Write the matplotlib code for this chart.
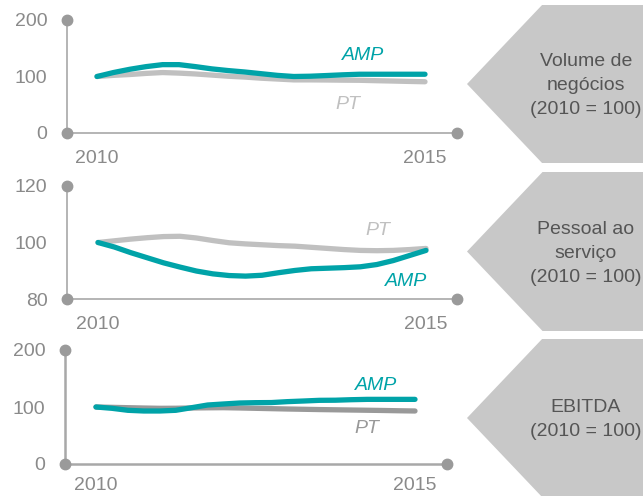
import matplotlib.pyplot as plt
from matplotlib.patches import Polygon

plt.rcParams['font.family'] = ['Liberation Sans', 'DejaVu Sans']

W, H = 643, 496

# quarterly readings, 2010 .. 2015
years = [2010 + q * 0.25 for q in range(21)]

# Volume de negocios (2010 = 100)
vol_amp = [100, 107, 112.8, 117.5, 121, 121, 117.5, 113.5, 110.5, 108, 105,
           102, 100, 100.5, 101.7, 103, 104, 104, 104, 104, 104]
vol_pt = [100, 102, 103.5, 105.5, 107, 106, 104.5, 102.5, 100.5, 99, 97,
          95.5, 94, 94, 93.8, 93.5, 93.3, 92.6, 92, 91.3, 90.7]

# Pessoal ao servico (2010 = 100)
pes_amp = [100, 98.4, 96.4, 94.6, 92.8, 91.3, 89.9, 88.9, 88.3, 88.1, 88.4,
           89.3, 90.1, 90.7, 90.9, 91.1, 91.4, 92.2, 93.6, 95.4, 97.2]
pes_pt = [100, 100.6, 101.2, 101.7, 102.1, 102.2, 101.6, 100.7, 99.9, 99.5,
          99.2, 98.9, 98.7, 98.3, 97.9, 97.5, 97.2, 97.1, 97.2, 97.5, 97.9]

# EBITDA (2010 = 100)
ebi_amp = [100, 97.7, 94.2, 93, 93, 94.2, 98.8, 103.5, 105.3, 107, 107.6,
           107.8, 109.4, 110.5, 111.7, 111.9, 112.8, 113.4, 113.4, 113.4, 113.4]
ebi_pt = [100, 99.4, 98.8, 98.2, 97.7, 97.8, 98.3, 98.6, 98.8, 98.3, 97.7,
          97.1, 96.5, 96, 95.5, 95.1, 94.7, 94.3, 93.9, 93.4, 93]

AMP_C = '#00a3a8'
TICK_C = '#8a8a8a'
AX_C = '#a8a8a8'
DOT_C = '#9a9a9a'
BOX_C = '#c8c8c8'
BOX_TXT = '#555555'

fig = plt.figure(figsize=(W / 100, H / 100), dpi=100)


def make_panel(px_left, px_right, px_top, px_bot, x0px, x1px, ylim, yticks,
               amp, pt, pt_color, amp_lab, pt_lab, ax_lw=1.2, xpad=12):
    ax = fig.add_axes([px_left / W, 1 - px_bot / H,
                       (px_right - px_left) / W, (px_bot - px_top) / H])
    ppy = (x1px - x0px) / 5.0
    ax.set_xlim(2010 - (x0px - px_left) / ppy, 2015 + (px_right - x1px) / ppy)
    ax.set_ylim(*ylim)
    ax.patch.set_alpha(0)
    for s in ['top', 'right']:
        ax.spines[s].set_visible(False)
    for s in ['left', 'bottom']:
        ax.spines[s].set_color(AX_C)
        ax.spines[s].set_linewidth(ax_lw)
    xl = ax.get_xlim()
    ax.plot([xl[0], xl[0], xl[1]], [ylim[1], ylim[0], ylim[0]], 'o',
            color=DOT_C, markersize=7.5, clip_on=False, zorder=5)
    ax.set_yticks(yticks)
    ax.set_yticklabels([str(v) for v in yticks])
    ax.set_xticks([2010, 2015])
    ax.set_xticklabels(['2010', '2015'])
    ax.tick_params(length=0, labelsize=14, colors=TICK_C)
    ax.tick_params(axis='y', pad=14)
    ax.tick_params(axis='x', pad=xpad)
    ax.plot(years, pt, color=pt_color, lw=3.8, solid_capstyle='round',
            solid_joinstyle='round', zorder=3)
    ax.plot(years, amp, color=AMP_C, lw=3.8, solid_capstyle='round',
            solid_joinstyle='round', zorder=4)
    ax.text(amp_lab[0], amp_lab[1], 'AMP', color=AMP_C, fontsize=14,
            style='italic', ha='center', va='center')
    ax.text(pt_lab[0], pt_lab[1], 'PT', color=pt_color, fontsize=14,
            style='italic', ha='center', va='center')
    return ax


make_panel(67, 457, 20, 133, 97, 425, (0, 200), [0, 100, 200],
           vol_amp, vol_pt, '#c0c0c0', (2014.05, 137), (2013.83, 51))
make_panel(67, 457, 186, 299, 98, 426, (80, 120), [80, 100, 120],
           pes_amp, pes_pt, '#c0c0c0', (2014.7, 86.2), (2014.27, 104.2))
make_panel(65, 447, 350, 464, 96, 415, (0, 200), [0, 100, 200],
           ebi_amp, ebi_pt, '#999999', (2014.39, 138.5), (2014.25, 63),
           ax_lw=1.8, xpad=9)

# grey arrow boxes on the right
boxes = [(5, 163, ['Volume de', 'negócios', '(2010 = 100)']),
         (172, 331, ['Pessoal ao', 'serviço', '(2010 = 100)']),
         (339, 497, ['EBITDA', '(2010 = 100)'])]
for top, bot, lines in boxes:
    mid = (top + bot) / 2.0
    half = (bot - top) / 2.0
    pts = [(467, mid), (467 + half * 0.95, top), (660, top), (660, bot),
           (467 + half * 0.95, bot)]
    pts = [(x / W, 1 - y / H) for x, y in pts]
    fig.patches.append(Polygon(pts, closed=True, transform=fig.transFigure,
                               facecolor=BOX_C, edgecolor='none'))
    n = len(lines)
    for i, t in enumerate(lines):
        y = mid + (i - (n - 1) / 2.0) * 24 + 1.5
        fig.text(586 / W, 1 - y / H, t, ha='center', va='center',
                 fontsize=14, color=BOX_TXT)

fig.savefig('out.png', dpi=100)
